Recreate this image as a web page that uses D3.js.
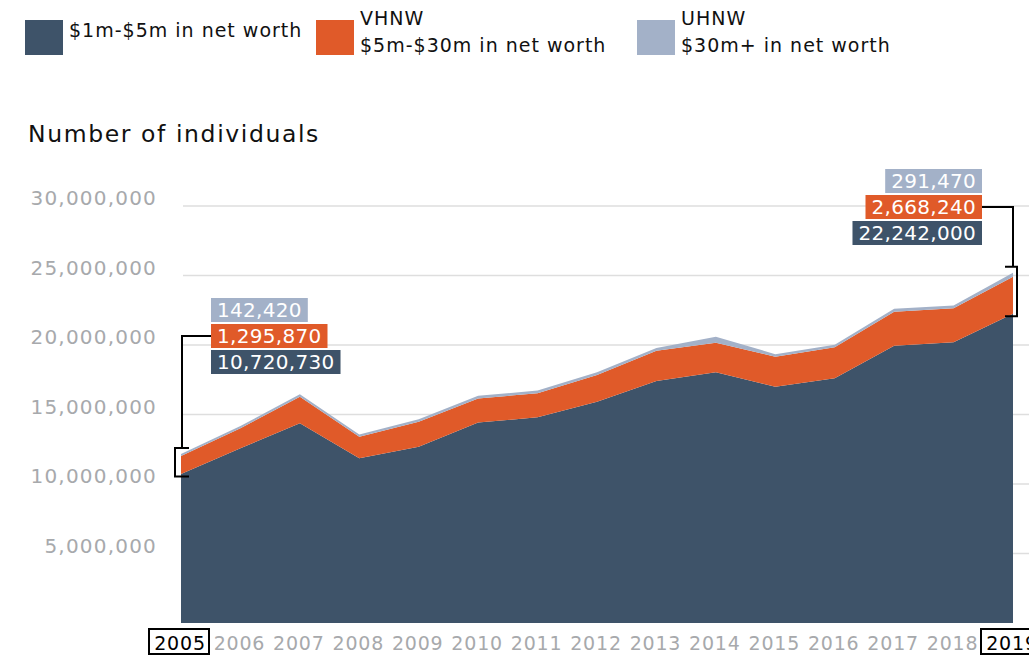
<!doctype html>
<html lang="en">
<head>
  <meta charset="utf-8">
  <title>Number of individuals</title>
  <script type="text/javascript" src="https://cdnjs.cloudflare.com/ajax/libs/d3/7.8.5/d3.min.js"></script>
  <style>
    body { margin: 0; background: #fff; }
    text { font-family: "DejaVu Sans", sans-serif; }
  </style>
</head>
<body>
  <svg width="1029" height="656" id="svg"></svg>
</body>
<script type="text/javascript">

  var years = [2005, 2006, 2007, 2008, 2009, 2010, 2011, 2012, 2013, 2014, 2015, 2016, 2017, 2018, 2019];

  // millionaires $1m-$5m
  var hnw = [10720730, 12570000, 14370000, 11850000, 12680000, 14420000, 14800000, 15920000,
             17410000, 18040000, 17000000, 17600000, 19950000, 20190000, 22242000];
  // VHNW $5m-$30m
  var vhnw = [1295870, 1440000, 1910000, 1550000, 1800000, 1730000, 1730000, 1920000,
              2180000, 2130000, 2160000, 2230000, 2450000, 2450000, 2668240];
  // UHNW $30m+
  var uhnw = [142420, 170000, 170000, 170000, 170000, 200000, 190000, 200000,
              200000, 420000, 180000, 180000, 200000, 200000, 291470];

  var yTicks = [5000000, 10000000, 15000000, 20000000, 25000000, 30000000];

  var seriesKeys = ['hnw', 'vhnw', 'uhnw'];
  var colors = { hnw: '#3e5369', vhnw: '#e05a29', uhnw: '#a3b1c8' };
  var legendLines = {
    hnw: ['$1m-$5m in net worth'],
    vhnw: ['VHNW', '$5m-$30m in net worth'],
    uhnw: ['UHNW', '$30m+ in net worth']
  };

  var rows = years.map(function(y, i) {
    return { year: y, hnw: hnw[i], vhnw: vhnw[i], uhnw: uhnw[i] };
  });

  var svg = d3.select('#svg');

  var x = d3.scaleLinear()
    .domain([2005, 2019])
    .range([181, 1013]);

  var y = d3.scaleLinear()
    .domain([0, 30000000])
    .range([623, 206]);

  var fmt = d3.format(',');

  // legend
  var legendX = { hnw: 25, vhnw: 316, uhnw: 637 };
  var legend = svg.selectAll('.legend')
    .data(seriesKeys)
    .enter()
    .append('g')
    .attr('class', 'legend')
    .attr('transform', function(d) { return 'translate(' + legendX[d] + ',0)'; });

  legend.append('rect')
    .attr('x', 0)
    .attr('y', 20)
    .attr('width', 38)
    .attr('height', 35)
    .attr('fill', function(d) { return colors[d]; });

  legend.each(function(d) {
    var lines = legendLines[d];
    var g = d3.select(this);
    lines.forEach(function(t, i) {
      var base = lines.length == 1 ? 37 : (i == 0 ? 25 : 52);
      g.append('text')
        .attr('x', 44)
        .attr('y', base)
        .attr('font-size', 19)
        .attr('letter-spacing', 1)
        .attr('fill', '#111')
        .text(t);
    });
  });

  // title
  svg.append('text')
    .attr('x', 28)
    .attr('y', 142)
    .attr('font-size', 23.5)
    .attr('letter-spacing', 1.6)
    .attr('fill', '#111')
    .text('Number of individuals');

  // gridlines
  svg.selectAll('.grid')
    .data(yTicks)
    .enter()
    .append('line')
    .attr('class', 'grid')
    .attr('x1', 183)
    .attr('x2', 1029)
    .attr('y1', function(d) { return y(d); })
    .attr('y2', function(d) { return y(d); })
    .attr('stroke', '#dedede')
    .attr('stroke-width', 1.5);

  // y labels
  svg.selectAll('.ylabel')
    .data(yTicks)
    .enter()
    .append('text')
    .attr('class', 'ylabel')
    .attr('x', 157)
    .attr('y', function(d) { return y(d) - 1; })
    .attr('text-anchor', 'end')
    .attr('font-size', 20)
    .attr('letter-spacing', 1.2)
    .attr('fill', '#a7a9ac')
    .text(function(d) { return fmt(d); });

  // stacked areas
  var stack = d3.stack().keys(seriesKeys);
  var layers = stack(rows);

  var area = d3.area()
    .x(function(d) { return x(d.data.year); })
    .y0(function(d) { return y(d[0]); })
    .y1(function(d) { return y(d[1]); });

  svg.selectAll('.layer')
    .data(layers)
    .enter()
    .append('path')
    .attr('class', 'layer')
    .attr('d', area)
    .attr('fill', function(d) { return colors[d.key]; });

  // x labels
  svg.selectAll('.xlabel')
    .data(years)
    .enter()
    .append('text')
    .attr('class', 'xlabel')
    .attr('x', function(d) { return x(d) - 1; })
    .attr('y', 650)
    .attr('text-anchor', 'middle')
    .attr('font-size', 19)
    .attr('letter-spacing', 0.8)
    .attr('fill', function(d, i) { return (i == 0 || i == years.length - 1) ? '#000' : '#a7a9ac'; })
    .text(function(d) { return d; });

  // boxes round first and last year
  [0, years.length - 1].forEach(function(i) {
    svg.append('rect')
      .attr('x', x(years[i]) - 32)
      .attr('y', 629)
      .attr('width', 60)
      .attr('height', 25)
      .attr('fill', 'none')
      .attr('stroke', '#000')
      .attr('stroke-width', 2);
  });

  // value callouts
  function callout(i, anchorX, align, lineY) {
    var vals = [
      { key: 'uhnw', v: uhnw[i] },
      { key: 'vhnw', v: vhnw[i] },
      { key: 'hnw', v: hnw[i] }
    ];
    var tops = [lineY - 38, lineY - 12, lineY + 14];
    vals.forEach(function(d, j) {
      var t = svg.append('text')
        .attr('font-size', 20)
        .attr('letter-spacing', 0.3)
        .attr('fill', '#fff')
        .attr('y', tops[j] + 19)
        .text(fmt(d.v));
      var w = t.node().getComputedTextLength() + 12;
      var bx = align == 'left' ? anchorX : anchorX - w;
      t.attr('x', bx + 6);
      svg.insert('rect', function() { return t.node(); })
        .attr('x', bx)
        .attr('y', tops[j])
        .attr('width', w)
        .attr('height', 24)
        .attr('fill', colors[d.key]);
    });

    var total = hnw[i] + vhnw[i] + uhnw[i];
    var bTop = y(total) - 6;
    var bBot = y(hnw[i]) + 2.5;
    var cx = x(years[i]);
    var stemX = align == 'left' ? cx + 1 : cx;
    var path = d3.path();
    path.moveTo(anchorX, lineY);
    path.lineTo(stemX, lineY);
    path.lineTo(stemX, bTop);
    if (align == 'left') {
      path.moveTo(cx + 8, bTop);
      path.lineTo(cx - 6, bTop);
      path.lineTo(cx - 6, bBot);
      path.lineTo(cx + 8, bBot);
    } else {
      path.moveTo(cx - 8, bTop);
      path.lineTo(cx + 4, bTop);
      path.lineTo(cx + 4, bBot);
      path.lineTo(cx - 8, bBot);
    }
    svg.append('path')
      .attr('d', path.toString())
      .attr('fill', 'none')
      .attr('stroke', '#000')
      .attr('stroke-width', 2);
  }

  callout(0, 211, 'left', 336);
  callout(years.length - 1, 982, 'right', 207);

</script>
</html>
